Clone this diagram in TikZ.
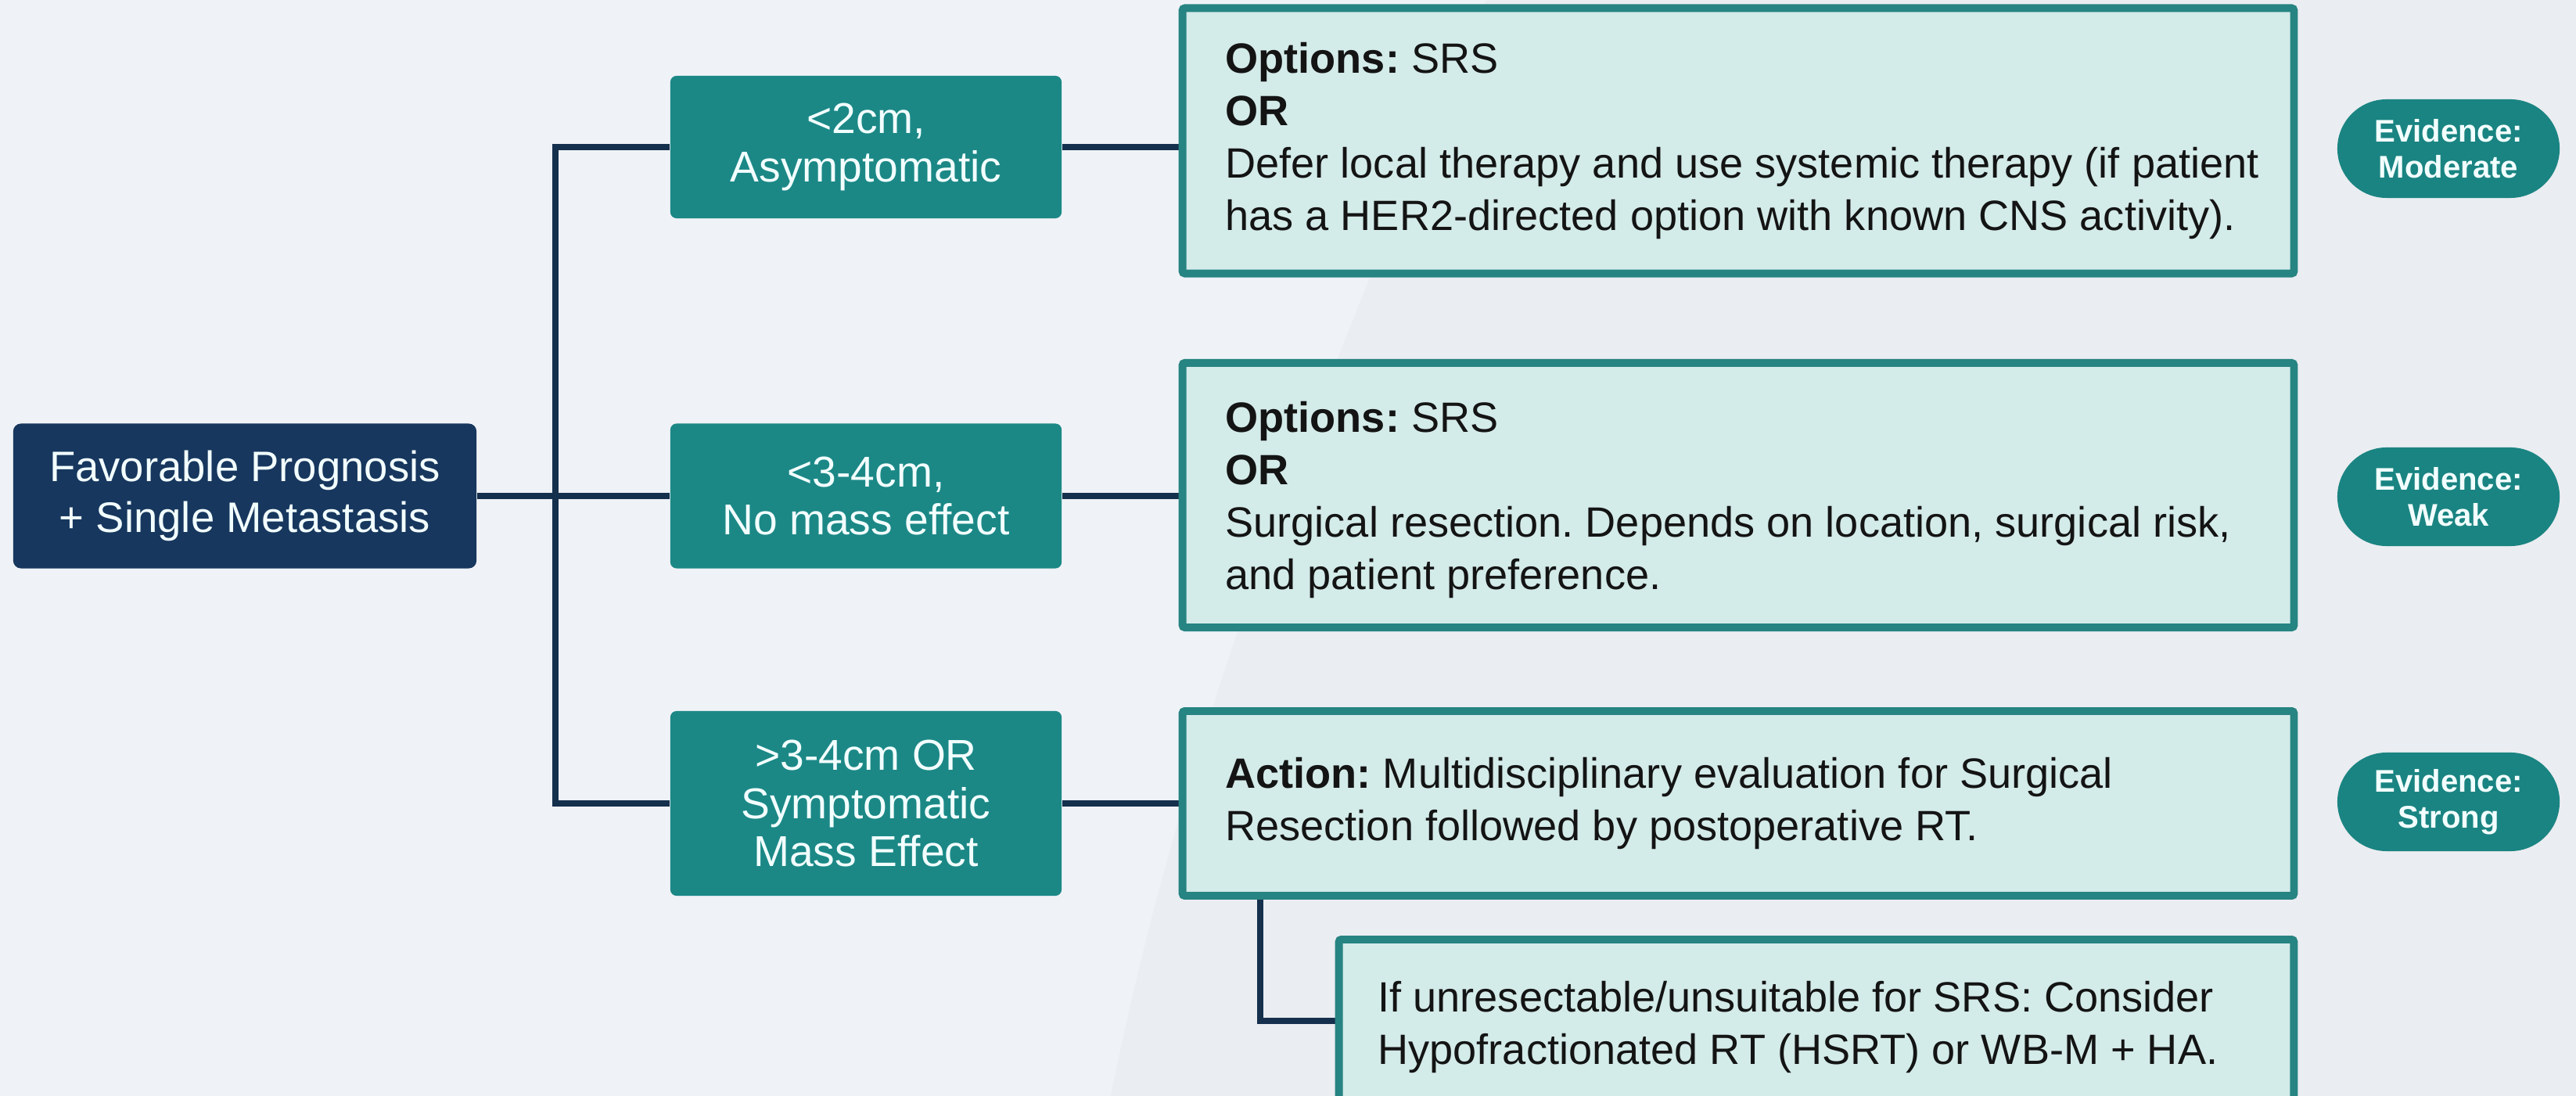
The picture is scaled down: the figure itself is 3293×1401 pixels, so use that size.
\documentclass[tikz,border=0pt]{standalone}
\usepackage{fontspec}
\setmainfont{Liberation Sans}
\usetikzlibrary{calc,backgrounds}
\frenchspacing

\definecolor{pagebg}{HTML}{EFF2F6}
\definecolor{pageshade}{HTML}{EAEDF1}
\definecolor{navyfill}{HTML}{17375E}
\definecolor{wirec}{HTML}{15304D}
\definecolor{tealfill}{HTML}{1B8886}
\definecolor{pillfill}{HTML}{1A8482}
\definecolor{mintfill}{HTML}{D3EBE9}
\definecolor{mintedge}{HTML}{268482}
\definecolor{paletext}{HTML}{F2FFFE}

\tikzset{
  rootbox/.style={fill=navyfill, rounded corners=0.1cm, minimum width=5.92cm,
    minimum height=1.85cm, text=paletext, align=center, inner sep=0pt,
    font=\fontsize{15.5}{18.5}\selectfont},
  midbox/.style={fill=tealfill, rounded corners=0.08cm, minimum width=5cm,
    text=paletext, align=center, inner sep=0pt,
    font=\fontsize{15.7}{17.4}\selectfont},
  optbox/.style={fill=mintfill, draw=mintedge, line width=2.8pt,
    rounded corners=0.03cm, minimum width=14.2cm, inner sep=0pt},
  bodytext/.style={align=left, anchor=west, inner sep=0pt, text=black!92,
    font=\fontsize{15.4}{19}\selectfont},
  pill/.style={fill=pillfill, rounded corners=0.63cm, minimum width=2.84cm,
    minimum height=1.26cm, text=paletext, align=center, inner sep=0pt,
    font=\bfseries\fontsize{11.4}{13}\selectfont},
  wire/.style={draw=wirec, line width=2.3pt},
}

\begin{document}
\begin{tikzpicture}[x=0.01cm, y=-0.01cm]
\useasboundingbox (0,0) rectangle (3293,1401);
\clip (0,0) rectangle (3293,1401);

% root and branch conditions
\node[rootbox] (root) at (313,634) {Favorable Prognosis\\+ Single Metastasis};
\node[midbox, minimum height=1.82cm] (c1) at (1107,188) {<2cm,\\Asymptomatic};
\node[midbox, minimum height=1.85cm] (c2) at (1107,634) {<3-4cm,\\No mass effect};
\node[midbox, minimum height=2.36cm] (c3) at (1107,1027) {>3-4cm OR\\Symptomatic\\Mass Effect};

% recommendation boxes
\node[optbox, minimum height=3.39cm] (r1) at (2222,180) {};
\node[bodytext] (t1) at ([xshift=0.59cm]r1.west)
  {\textbf{Options:} SRS\\\textbf{OR}\\Defer local therapy and use systemic therapy (if patient\\has a HER2-directed option with known CNS activity).};
\node[optbox, minimum height=3.38cm] (r2) at (2222,633) {};
\node[bodytext] (t2) at ([xshift=0.59cm, yshift=-0.06cm]r2.west)
  {\textbf{Options:} SRS\\\textbf{OR}\\Surgical resection. Depends on location, surgical risk,\\and patient preference.};
\node[optbox, minimum height=2.36cm] (r3) at (2222,1027) {};
\node[bodytext] (t3) at ([xshift=0.59cm]r3.west)
  {\textbf{Action:} Multidisciplinary evaluation for Surgical\\Resection followed by postoperative RT.};
\node[optbox, minimum width=12.2cm, minimum height=2.24cm] (r4) at (2322,1313) {};
\node[bodytext] (t4) at ([xshift=0.54cm]r4.west)
  {If unresectable/unsuitable for SRS: Consider\\Hypofractionated RT (HSRT) or WB-M + HA.};

% evidence tags
\node[pill] (e1) at (3130,190) {Evidence:\\Moderate};
\node[pill] (e2) at (3130,635) {Evidence:\\Weak};
\node[pill] (e3) at (3130,1025) {Evidence:\\Strong};

\begin{pgfonlayer}{background}
  \fill[pagebg] (0,0) rectangle (3293,1401);
  \fill[pageshade] (1900,0) .. controls (1720,420) and (1520,900) .. (1420,1401)
    -- (3293,1401) -- (3293,0) -- cycle;
  % connectors
  \coordinate (bustop) at (710,188);
  \coordinate (busbot) at (710,1027);
  \coordinate (dropx) at (1611,0);
  \draw[wire] (root.east) -- (c2.west);
  \draw[wire] (c1.west) -- (bustop) -- (busbot) -- (c3.west);
  \draw[wire] (c1.east) -- (c1.east -| r1.west);
  \draw[wire] (c2.east) -- (c2.east -| r2.west);
  \draw[wire] (c3.east) -- (r3.west);
  \draw[wire] (dropx |- r3.south) |- ([yshift=0.08cm]r4.west);
\end{pgfonlayer}
\end{tikzpicture}
\end{document}
